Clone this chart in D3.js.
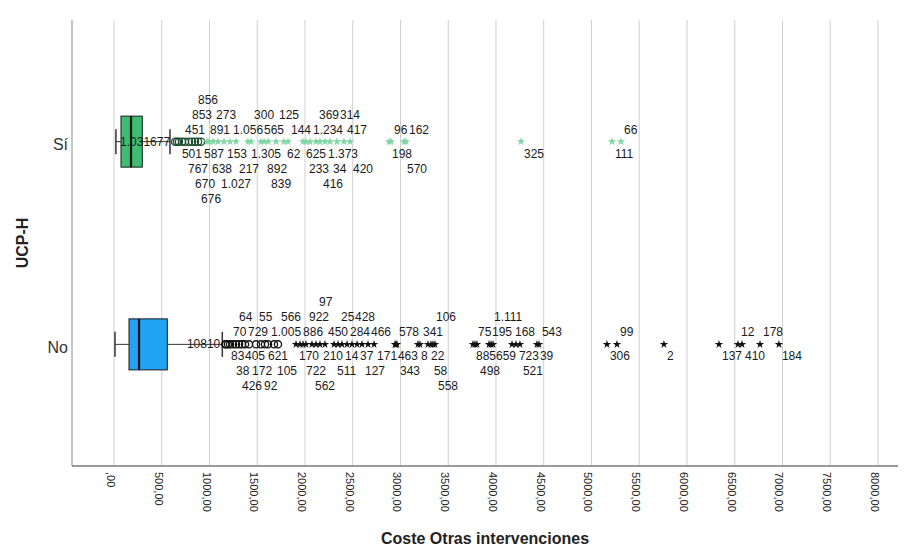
<!DOCTYPE html>
<html>
<head>
<meta charset="utf-8">
<script src="https://cdn.jsdelivr.net/npm/d3@7/dist/d3.min.js"></script>
<style>
  html, body { margin: 0; padding: 0; background: #ffffff; }
  svg { display: block; font-family: "Liberation Sans", Arial, sans-serif; }
</style>
</head>
<body>
<svg id="chart" width="910" height="547"></svg>
<script>
// Groups (UCP-H) and box summaries of "Coste Otras intervenciones"
const categories = ["Sí", "No"];
const whiskerLow = [20, 10];
const quartile1 = [73, 157];
const medians = [178, 262];
const quartile3 = [296, 558];
const whiskerHigh = [586, 1134];

// Outlying cases: case number and cost
const siCaseIds = [677, 1031, 501, 451, 767, 853, 670, 856, 676, 587, 891, 638, 273, 1027, 153, 1056, 217,
  1305, 300, 565, 892, 839, 125, 62, 144, 625, 233, 1234, 369, 416, 1373, 34, 314, 417, 420, 198, 96, 570,
  162, 325, 111, 66];
const siCaseValues = [640, 660, 680, 712, 743, 785, 817, 848, 880, 911, 974, 995, 1037, 1089, 1152, 1215, 1277,
  1403, 1435, 1539, 1571, 1613, 1696, 1780, 1822, 1979, 2010, 2052, 2115, 2157, 2209, 2262, 2335, 2408, 2471,
  2880, 2901, 3037, 3058, 4262, 5215, 5309];

const noCaseIds = [10, 108, 83, 70, 38, 64, 426, 405, 729, 172, 55, 92, 621, 1005, 105, 566,
  170, 886, 722, 922, 562, 97, 210, 450, 511, 25, 14, 284, 428, 37, 127, 466, 171, 463, 578, 343, 8, 341,
  22, 58, 106, 558, 885, 75, 498, 195, 1111, 659, 168, 723, 521, 39, 543, 306, 99, 2, 137, 12, 410, 178, 184];
const noCaseValues = [1165, 1173, 1194, 1215, 1246, 1277, 1309, 1340, 1372, 1414, 1487, 1539, 1581, 1613, 1675, 1717,
  1906, 1948, 1979, 2010, 2073, 2115, 2157, 2209, 2304, 2346, 2387, 2440, 2492, 2545, 2597, 2660, 2723, 2942, 2953,
  2963, 3183, 3204, 3288, 3319, 3340, 3361, 3759, 3780, 3801, 3927, 3948, 3969, 4168, 4209, 4251, 4429, 4450,
  5162, 5267, 5759, 6335, 6534, 6576, 6765, 6963];

const tickValues = d3.range(0, 8001, 500);

const boxFill = ["#3dbd72", "#1fa3f2"];
const starFill = ["#7ed7a2", "#111111"];
const circleStroke = ["#1d4d2e", "#111111"];

const svg = d3.select("#chart");
const x = d3.scaleLinear().domain([-440, 8210]).range([72, 898]);
const y = d3.scalePoint().domain(categories).range([20, 466]).padding(0.6);

const es = d3.formatLocale({ decimal: ",", thousands: ".", grouping: [3] });
const idFormat = es.format(",d");
const tickFormat = v => (v === 0 ? ",00" : d3.format("d")(v) + ",00");

// vertical grid lines
svg.append("g").selectAll("line").data(tickValues).join("line")
  .attr("x1", d => x(d)).attr("x2", d => x(d))
  .attr("y1", 20).attr("y2", 466)
  .attr("stroke", "#cfcfcf").attr("stroke-width", 1);

// axes frame
svg.append("line").attr("x1", 72).attr("x2", 72).attr("y1", 20).attr("y2", 466)
  .attr("stroke", "#8a8a8a").attr("stroke-width", 1);
svg.append("line").attr("x1", 72).attr("x2", 898).attr("y1", 466).attr("y2", 466)
  .attr("stroke", "#7a7a7a").attr("stroke-width", 1.5);

// x tick labels, rotated
svg.append("g").selectAll("text").data(tickValues).join("text")
  .attr("transform", d => `translate(${x(d) - 3},472) rotate(90)`)
  .attr("dominant-baseline", "central")
  .attr("font-size", 11).attr("fill", "#222")
  .text(tickFormat);

// category labels
svg.append("g").selectAll("text").data(categories).join("text")
  .attr("x", 68).attr("y", d => y(d) + 3)
  .attr("text-anchor", "end").attr("dominant-baseline", "central")
  .attr("font-size", 16).attr("fill", "#333")
  .text(d => d);

// axis titles
svg.append("text").attr("transform", "translate(22,243) rotate(-90)")
  .attr("text-anchor", "middle").attr("dominant-baseline", "central")
  .attr("font-size", 16).attr("font-weight", "bold").attr("fill", "#222")
  .text("UCP-H");
svg.append("text").attr("x", 485).attr("y", 538)
  .attr("text-anchor", "middle").attr("dominant-baseline", "central")
  .attr("font-size", 16).attr("font-weight", "bold").attr("fill", "#222")
  .text("Coste Otras intervenciones");

const boxHalf = 25.5;
const capHalf = 12.5;

categories.forEach((cat, i) => {
  const cy = y(cat);
  const g = svg.append("g");
  // whiskers
  g.append("line").attr("x1", x(whiskerLow[i])).attr("x2", x(quartile1[i]))
    .attr("y1", cy).attr("y2", cy).attr("stroke", "#333").attr("stroke-width", 1);
  g.append("line").attr("x1", x(quartile3[i])).attr("x2", x(whiskerHigh[i]))
    .attr("y1", cy).attr("y2", cy).attr("stroke", "#333").attr("stroke-width", 1);
  [whiskerLow[i], whiskerHigh[i]].forEach(v => {
    g.append("line").attr("x1", x(v)).attr("x2", x(v))
      .attr("y1", cy - capHalf).attr("y2", cy + capHalf)
      .attr("stroke", "#333").attr("stroke-width", 1.5);
  });
  // box
  g.append("rect").attr("x", x(quartile1[i])).attr("y", cy - boxHalf)
    .attr("width", x(quartile3[i]) - x(quartile1[i])).attr("height", boxHalf * 2)
    .attr("fill", boxFill[i]).attr("stroke", "#1a1a1a").attr("stroke-width", 1);
  g.append("line").attr("x1", x(medians[i])).attr("x2", x(medians[i]))
    .attr("y1", cy - boxHalf).attr("y2", cy + boxHalf)
    .attr("stroke", "#111").attr("stroke-width", 2.2);
});

// outliers: circles beyond 1.5 IQR, stars beyond 3 IQR, labelled with case numbers
const ctx = document.createElement("canvas").getContext("2d");
ctx.font = "12px 'Liberation Sans'";
const rowOffsets = [12, -12, 27, -27, 42, -42, 57, -57];
const maxCentreLabels = 2;

function drawOutliers(i, ids, values) {
  const cy = y(categories[i]);
  const iqr = quartile3[i] - quartile1[i];
  const extreme = quartile3[i] + 3 * iqr;
  const cases = ids.map((id, k) => ({ id, v: values[k] })).sort((a, b) => a.v - b.v);
  const g = svg.append("g");

  cases.forEach(c => {
    const px = x(c.v);
    if (c.v > extreme) {
      g.append("path").attr("transform", `translate(${px},${cy})`)
        .attr("d", d3.symbol(d3.symbolStar, 22)())
        .attr("fill", starFill[i]);
    } else {
      g.append("circle").attr("cx", px).attr("cy", cy).attr("r", 3.6)
        .attr("fill", "none").attr("stroke", circleStroke[i]).attr("stroke-width", 1.3);
    }
  });

  const occupied = {};
  const overlap = (row, a, b) => d3.sum(occupied[row] || [], s => Math.max(0, Math.min(b, s[1]) - Math.max(a, s[0])));
  const take = (row, a, b) => { (occupied[row] = occupied[row] || []).push([a, b]); };
  // labels on the centre line stack leftwards from the first point
  let centreEdge = x(cases[0].v) - 5;
  let centreCount = 0;

  cases.forEach(c => {
    const px = x(c.v);
    const txt = idFormat(c.id);
    const w = ctx.measureText(txt).width;
    let placed = null;

    if (centreCount < maxCentreLabels) {
      placed = { r: 0, a: centreEdge - w };
      centreEdge -= w;
      centreCount++;
    }
    if (!placed) {
      for (const r of rowOffsets) {
        if (overlap(r, px + 3, px + 3 + w) <= 0) { placed = { r, a: px + 3 }; break; }
      }
    }
    if (!placed) {
      for (const r of rowOffsets) {
        if (overlap(r, px - 3 - w, px - 3) <= 0) { placed = { r, a: px - 3 - w }; break; }
      }
    }
    if (!placed) {
      let best = null;
      rowOffsets.forEach(r => {
        const o = overlap(r, px + 3, px + 3 + w);
        if (!best || o < best.o) best = { r, a: px + 3, o };
      });
      placed = best;
    }
    take(placed.r, placed.a, placed.a + w);
    g.append("text").attr("x", placed.a).attr("y", cy + placed.r)
      .attr("dominant-baseline", "central")
      .attr("font-size", 12).attr("fill", "#1a1a1a")
      .text(txt);
  });
}

drawOutliers(0, siCaseIds, siCaseValues);
drawOutliers(1, noCaseIds, noCaseValues);
</script>
</body>
</html>
